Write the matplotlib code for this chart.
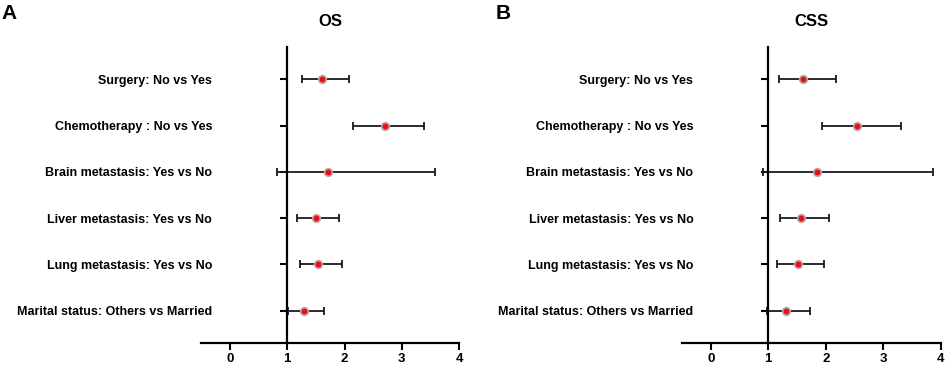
import numpy as np
import matplotlib.pyplot as plt

plt.rcParams['font.family'] = ['Liberation Sans', 'DejaVu Sans']
plt.rcParams['font.weight'] = 'bold'

labels = ["Surgery: No vs Yes", "Chemotherapy : No vs Yes",
          "Brain metastasis: Yes vs No", "Liver metastasis: Yes vs No",
          "Lung metastasis: Yes vs No", "Marital status: Others vs Married"]

# hazard ratios with 95% CI
os_hr = [1.61, 2.70, 1.72, 1.50, 1.54, 1.29]
os_lo = [1.26, 2.14, 0.83, 1.17, 1.22, 1.02]
os_hi = [2.08, 3.39, 3.57, 1.90, 1.95, 1.64]

css_hr = [1.60, 2.54, 1.85, 1.57, 1.51, 1.31]
css_lo = [1.19, 1.94, 0.90, 1.20, 1.15, 0.98]
css_hi = [2.17, 3.31, 3.86, 2.06, 1.97, 1.73]

xticks = [0, 1, 2, 3, 4]


def forest(ax, hr, lo, hi, title):
    y = np.arange(len(labels))
    hr = np.array(hr)
    err = [hr - np.array(lo), np.array(hi) - hr]
    ax.errorbar(hr, y, xerr=err, fmt='none', ecolor='#1a1a1a',
                elinewidth=1.3, capsize=3, capthick=1.3, zorder=2)
    ax.plot(hr, y, 'o', ms=5.5, mfc='#e8101a', mec='#b8a8a8', mew=1.2, zorder=3)
    ax.set_xlim(-0.5, 4)
    ax.set_ylim(5.7, -0.7)
    ax.set_xticks(xticks)
    ax.set_yticks(y, labels)
    ax.tick_params(axis='x', labelsize=9.5, width=1.5, length=5, pad=2)
    ax.tick_params(axis='y', labelsize=9, width=1.5, length=5, pad=49)
    ax.spines['left'].set_position(('data', 1))
    ax.spines['top'].set_visible(False)
    ax.spines['right'].set_visible(False)
    for s in ['left', 'bottom']:
        ax.spines[s].set_linewidth(1.6)
    ax.set_title(title, fontsize=12, fontweight='bold', pad=15)


fig = plt.figure(figsize=(9.46, 3.65), dpi=100)
ax1 = fig.add_axes([0.2125, 0.0603, 0.273, 0.811])
ax2 = fig.add_axes([0.721, 0.0603, 0.2735, 0.811])
forest(ax1, os_hr, os_lo, os_hi, "OS")
forest(ax2, css_hr, css_lo, css_hi, "CSS")

fig.text(0.002, 0.962, "A", fontsize=15, fontweight='bold', va='center')
fig.text(0.524, 0.962, "B", fontsize=15, fontweight='bold', va='center')

fig.savefig("out.png", dpi=100)
